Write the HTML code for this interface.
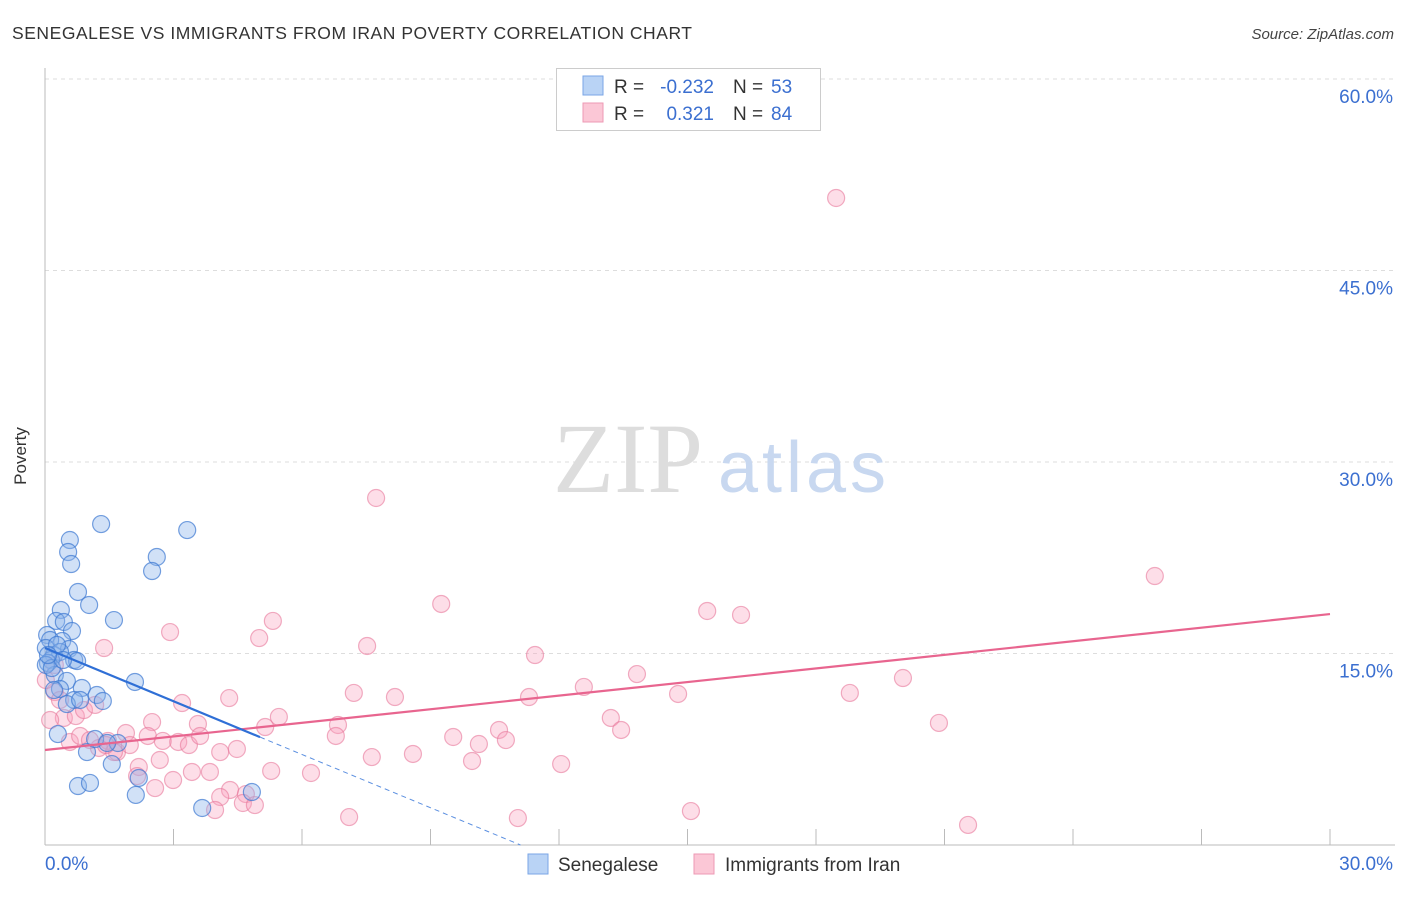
<!DOCTYPE html>
<html><head><meta charset="utf-8"><style>
body{margin:0;background:#fff;font-family:"Liberation Sans",sans-serif;}
svg text{font-family:"Liberation Sans",sans-serif;}
</style></head><body>
<svg id="chart" width="1406" height="892">
<text x="12" y="39" font-size="17.5" fill="#333" textLength="680">SENEGALESE VS IMMIGRANTS FROM IRAN POVERTY CORRELATION CHART</text>
<text x="1394" y="39" font-size="15" fill="#444" font-style="italic" text-anchor="end">Source: ZipAtlas.com</text>
<text x="26" y="456" font-size="17" fill="#333" text-anchor="middle" transform="rotate(-90 26 456)">Poverty</text>
<g id="grid"></g>
<text x="553" y="492" font-size="100" fill="#ddd" style="font-family:'Liberation Serif',serif">ZIP</text>
<text x="718" y="492" font-size="72" fill="#c8d8f0" textLength="168">atlas</text>
<g id="marks"></g>
<g>
<rect x="556.5" y="68.5" width="264" height="62" fill="#fff" stroke="#ccc"/>
<rect x="583" y="76" width="20" height="19" fill="#b9d3f5" stroke="#7aa6e6"/>
<rect x="583" y="103" width="20" height="19" fill="#fbc7d6" stroke="#ee9ab4"/>
<text x="614" y="93" font-size="19" fill="#333">R = </text><text x="714" y="93" font-size="19" fill="#3b6fd0" text-anchor="end">-0.232</text>
<text x="733" y="93" font-size="19" fill="#333">N = </text><text x="771" y="93" font-size="19" fill="#3b6fd0">53</text>
<text x="614" y="120" font-size="19" fill="#333">R = </text><text x="714" y="120" font-size="19" fill="#3b6fd0" text-anchor="end">0.321</text>
<text x="733" y="120" font-size="19" fill="#333">N = </text><text x="771" y="120" font-size="19" fill="#3b6fd0">84</text>
</g>
<g>
<rect x="528" y="854" width="20" height="20" fill="#b9d3f5" stroke="#7aa6e6"/>
<text x="558" y="871" font-size="19" fill="#333">Senegalese</text>
<rect x="694" y="854" width="20" height="20" fill="#fbc7d6" stroke="#ee9ab4"/>
<text x="725" y="871" font-size="19" fill="#333">Immigrants from Iran</text>
</g>
</svg>
<script>
const xTicks=[0,30];
const yTicks=[15,30,45,60];
const blueX=[1.31,3.32,0.58,0.54,0.61,2.61,2.50,0.77,1.03,0.37,1.61,0.26,0.44,0.05,0.63,0.40,0.12,0.02,0.56,0.21,0.35,0.68,0.75,0.14,0.07,0.23,2.10,0.51,0.86,0.35,0.21,1.21,0.68,1.35,0.51,0.30,1.56,0.98,1.17,1.70,2.19,0.77,1.05,2.12,3.67,4.83,0.02,0.16,0.28,0.42,0.82,0.07,1.45];
const blueY=[25.14,24.67,23.89,22.95,22.01,22.56,21.46,19.82,18.80,18.41,17.62,17.55,17.47,16.45,16.76,15.98,16.06,15.43,15.35,14.88,15.12,14.49,14.41,14.49,14.26,13.32,12.77,12.85,12.30,12.22,12.14,11.75,11.36,11.28,11.04,8.69,6.34,7.28,8.30,7.99,5.25,4.62,4.86,3.92,2.90,4.15,14.10,13.86,15.67,14.49,11.36,14.88,7.99];
const pinkX=[18.47,7.73,25.91,9.25,15.46,16.25,5.32,2.92,5.00,7.52,1.38,11.44,13.82,12.58,7.21,8.17,11.30,14.78,18.79,20.03,3.20,4.30,0.23,0.44,0.72,0.91,2.50,3.57,5.46,5.14,6.84,10.60,13.21,13.45,20.87,1.89,1.47,0.58,1.26,1.68,2.40,2.75,3.11,3.36,3.62,4.48,4.09,6.79,9.53,10.13,10.76,8.59,7.63,9.97,12.05,2.19,1.61,2.68,3.43,3.85,5.28,6.21,2.15,2.99,2.57,4.32,4.69,4.09,4.62,4.90,3.97,7.10,11.04,15.08,21.55,0.35,1.17,0.82,1.42,0.02,0.23,0.12,1.05,1.98];
const pinkY=[50.68,27.18,21.07,18.88,18.33,18.02,17.55,16.68,16.21,15.59,15.43,14.88,13.39,12.38,11.91,11.59,11.59,11.83,11.91,13.08,11.12,11.51,11.98,9.95,10.10,10.57,9.63,9.48,10.03,9.24,9.40,9.01,9.95,9.01,9.56,8.77,8.15,8.07,7.60,7.28,8.54,8.15,8.07,7.83,8.54,7.52,7.28,8.54,8.46,7.91,8.22,7.13,6.89,6.58,6.34,6.11,7.28,6.66,5.72,5.72,5.80,5.64,5.40,5.09,4.46,4.31,3.99,3.76,3.29,3.13,2.74,2.19,2.11,2.66,1.57,11.36,10.97,8.54,7.83,12.92,14.10,9.79,8.22,7.83];
const blueTrend=[15.43,-1.39];   // intercept, slope
const blueSolidEnd=[5.02];
const pinkTrend=[7.44,0.355];
const NS='http://www.w3.org/2000/svg';
const L=45,R=1330,B=845,T=79;
function sx(v){return L+v/30*(R-L);}
function sy(v){return B-v/60*(B-T);}
function mk(t,a,p){const e=document.createElementNS(NS,t);for(const k in a)e.setAttribute(k,a[k]);p.appendChild(e);return e;}
const grid=document.getElementById('grid'),marks=document.getElementById('marks');
yTicks.forEach(v=>{const l=mk('line',{x1:L,x2:1395,y1:sy(v),y2:sy(v),stroke:'#ddd','stroke-dasharray':'4,4'},grid);


const t=mk('text',{x:1393,y:sy(v)+24,'font-size':19,fill:'#3b6fd0','text-anchor':'end'},grid);t.textContent=v.toFixed(1)+'%';

});
const ax=mk('line',{x1:L,x2:L,y1:68,y2:B,stroke:'#bbb'},grid);


const bx=mk('line',{x1:L,x2:1395,y1:B,y2:B,stroke:'#bbb'},grid);


for(let i=1;i<=10;i++){const tk=mk('line',{x1:sx(i*3),x2:sx(i*3),y1:B,y2:B-16,stroke:'#bbb'},grid);

}
xTicks.forEach((v,i)=>{const t=mk('text',{x:i?1393:45,y:870,'font-size':19,fill:'#3b6fd0','text-anchor':i?'end':'start'},grid);t.textContent=v.toFixed(1)+'%';

});
function pts(X,Y,fill,stroke,name){X.forEach((x,i)=>{const c=mk('circle',{cx:sx(x),cy:sy(Y[i]),r:8.5,fill:fill,stroke:stroke,'stroke-width':1.2},marks);

});}
pts(pinkX,pinkY,'rgba(248,160,188,0.35)','rgba(232,120,155,0.6)','iran-point');
pts(blueX,blueY,'rgba(140,180,235,0.4)','rgba(60,120,210,0.7)','senegalese-point');
const pl=mk('line',{x1:sx(0),y1:sy(pinkTrend[0]),x2:sx(30),y2:sy(pinkTrend[0]+pinkTrend[1]*30),stroke:'#e8658f','stroke-width':2.2},marks);


const xe=blueSolidEnd[0];
const bl=mk('line',{x1:sx(0),y1:sy(blueTrend[0]),x2:sx(xe),y2:sy(blueTrend[0]+blueTrend[1]*xe),stroke:'#2f6fd6','stroke-width':2.2},marks);


const xz=-blueTrend[0]/blueTrend[1];
const bd=mk('line',{x1:sx(xe),y1:sy(blueTrend[0]+blueTrend[1]*xe),x2:sx(xz),y2:sy(0),stroke:'#5b8fe0','stroke-width':1,'stroke-dasharray':'5,4'},marks);


</script>
</body></html>
